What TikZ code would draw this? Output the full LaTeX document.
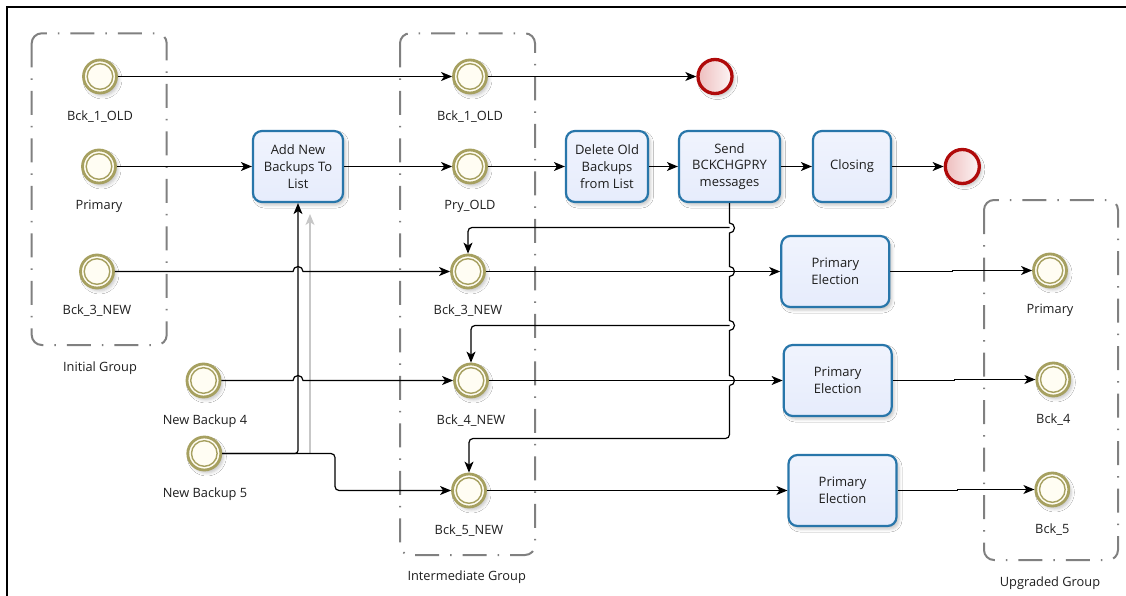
\documentclass[tikz,border=0pt]{standalone}
\usepackage{fontspec}
\setmainfont{Open Sans}
\usetikzlibrary{arrows.meta,shadows.blur}
\definecolor{olivering}{RGB}{166,160,96}
\definecolor{eventfill}{RGB}{255,253,243}
\definecolor{endred}{RGB}{176,10,10}
\definecolor{endpink}{RGB}{238,190,190}
\definecolor{taskblue}{RGB}{40,118,170}
\definecolor{taskfill}{RGB}{230,236,252}
\definecolor{groupgray}{RGB}{128,128,128}
\definecolor{txt}{RGB}{30,30,30}
\begin{document}
\begin{tikzpicture}[x=1pt,y=-1pt,
  font=\fontsize{12.8}{16.7}\selectfont, text=txt,
  softshadow/.style={blur shadow={shadow xshift=2.5pt, shadow yshift=-3pt,
      shadow blur radius=3pt, shadow opacity=22}},
  evt/.style={circle, inner sep=0pt, minimum size=33pt, draw=olivering,
      line width=2.8pt, fill=eventfill, outer sep=1.4pt, softshadow,
      path picture={\draw[olivering, line width=1.4pt]
        (path picture bounding box.center) circle[radius=12.8pt];}},
  endevt/.style={circle, inner sep=0pt, minimum size=34pt, draw=endred,
      line width=3.3pt, outer sep=1.7pt, left color=endpink,
      right color=white!85!endpink, softshadow},
  task/.style={rectangle, rounded corners=9pt, draw=taskblue, line width=2.2pt,
      align=center, top color=white!40!taskfill, bottom color=taskfill,
      minimum height=71pt, inner sep=2pt, softshadow,
      font=\fontsize{13}{16.7}\selectfont},
  lbl/.style={inner sep=1pt},
  group/.style={draw=groupgray, line width=2pt, rounded corners=10pt,
      dash pattern=on 24pt off 11pt on 1.5pt off 11pt},
  link/.style={draw=black, line width=1.2pt},
  flow/.style={link, -{Stealth[length=11pt,width=9pt,inset=3pt]}},
  ghost/.style={draw=black!22, line width=1.2pt,
      -{Stealth[length=11pt,width=9pt,inset=3pt]}}
]
\useasboundingbox (0,0) rectangle (1126,596);
\fill[white] (0,0) rectangle (1126,596);

% outer frame
\draw[line width=2pt] (6.7,596) -- (6.7,6.7) -- (1126,6.7);

% groups
\draw[group] (31.7,33.3) rectangle (166.7,345);
\draw[group] (400,33.3) rectangle (535,555);
\draw[group] (984,200) rectangle (1118,560);
\node[lbl] (gInit) at (100,368.3) {Initial Group};
\node[lbl] (gMid) at (466.7,576.7) {Intermediate Group};
\node[lbl] (gUp) at (1050,583) {Upgraded Group};

% initial group events
\node[evt] (b1L) at (100,76.5) {};
\node[evt] (prL) at (99,166.5) {};
\node[evt] (b3L) at (97,271.5) {};
\node[lbl] at (100,116.7) {Bck\_1\_OLD};
\node[lbl] at (99,206.7) {Primary};
\node[lbl] at (97,310.7) {Bck\_3\_NEW};

% new backups
\node[evt] (nb4) at (203.5,380.5) {};
\node[evt] (nb5) at (204.3,453.5) {};
\node[lbl] at (205,420.7) {New Backup 4};
\node[lbl] at (205,494) {New Backup 5};

% intermediate group events
\node[evt] (b1M) at (470,76.5) {};
\node[evt] (pryM) at (470,166.5) {};
\node[evt] (b3M) at (468,271.5) {};
\node[evt] (b4M) at (471,380.5) {};
\node[evt] (b5M) at (469,490.5) {};
\node[lbl] at (470,116.7) {Bck\_1\_OLD};
\node[lbl] at (470,206.7) {Pry\_OLD};
\node[lbl] at (468,311) {Bck\_3\_NEW};
\node[lbl] at (471,420.7) {Bck\_4\_NEW};
\node[lbl] at (469,531) {Bck\_5\_NEW};

% upgraded group events
\node[evt] (rP) at (1050,270.5) {};
\node[evt] (r4) at (1053.3,379.5) {};
\node[evt] (r5) at (1052.3,489.5) {};
\node[lbl] at (1050,310) {Primary};
\node[lbl] at (1053.3,420) {Bck\_4};
\node[lbl] at (1052.3,529.3) {Bck\_5};

% end events
\node[endevt] (end1) at (715,76.5) {};
\node[endevt] (end2) at (962.3,166.5) {};

% tasks
\node[task, minimum width=90pt] (addnew) at (298,166.5) {Add New\\Backups To\\List};
\node[task, minimum width=82pt] (del) at (607,166.5) {Delete Old\\Backups\\from List};
\node[task, minimum width=101pt] (send) at (729.5,166.5) {Send\\BCKCHGPRY\\messages};
\node[task, minimum width=78pt] (clos) at (852,166.5) {Closing};
\node[task, minimum width=108pt] (pe1) at (835.3,271.5) {Primary\\Election};
\node[task, minimum width=108pt] (pe2) at (837.7,380.5) {Primary\\Election};
\node[task, minimum width=108pt] (pe3) at (842.5,490.5) {Primary\\Election};

% faint trace beside the vertical connector
\coordinate (gA) at (310,453.5);
\coordinate (gB) at (310,214);
\draw[ghost] (gA) -- (gB);

% top rows
\draw[flow] (b1L) -- (b1M);
\draw[flow] (b1M) -- (end1);
\draw[flow] (prL) -- (addnew);
\draw[flow] (addnew) -- (pryM);
\draw[flow] (pryM) -- (del);
\draw[flow] (del) -- (send);
\draw[flow] (send) -- (clos);
\draw[flow] (clos) -- (end2);

% crossing points of the vertical connector into "Add New Backups To List"
\coordinate (x3) at (addnew.south |- b3L.east);
\coordinate (x4) at (addnew.south |- nb4.east);
\draw[flow] (b3L.east) -- ([xshift=-5pt]x3) arc[start angle=180,end angle=0,radius=5pt] -- (b3M.west);
\draw[flow] (nb4.east) -- ([xshift=-5pt]x4) arc[start angle=180,end angle=0,radius=5pt] -- (b4M.west);

% New Backup 5 outgoing
\draw[flow, rounded corners=3pt] (nb5.east) -| (addnew.south);
\coordinate (c5) at (335,470);
\draw[flow, rounded corners=4pt] (nb5.east) -| (c5) |- (b5M.west);

% intermediate to elections
\draw[flow] (b3M) -- (pe1);
\draw[flow] (b4M) -- (pe2);
\draw[flow] (b5M) -- (pe3);

% elections to upgraded group
\draw[flow] (pe1.east) -- ++(62,0) |- (rP.west);
\draw[flow] (pe2.east) -- ++(62,0) |- (r4.west);
\draw[flow] (pe3.east) -- ++(60,0) |- (r5.west);

% BCKCHGPRY fan-out trunk with jumps
\coordinate (t1) at (send.south |- 0,228);
\coordinate (t2) at (send.south |- b3M.east);
\coordinate (t3) at (send.south |- 0,325.5);
\coordinate (t4) at (send.south |- b4M.east);
\coordinate (t5) at (send.south |- 0,438.5);
\draw[link] (send.south) -- ([yshift=5pt]t1) arc[start angle=90,end angle=-90,radius=5pt]
  -- ([yshift=5pt]t2) arc[start angle=90,end angle=-90,radius=5pt]
  -- ([yshift=5pt]t3) arc[start angle=90,end angle=-90,radius=5pt]
  -- ([yshift=5pt]t4) arc[start angle=90,end angle=-90,radius=5pt];
\draw[flow, rounded corners=4pt] ([yshift=-5pt]t4) -- (t5) -| (b5M.north);
\draw[flow, rounded corners=4pt] ([yshift=0.5pt]t1) -| (b3M.north);
\draw[flow, rounded corners=4pt] (t3) -| (b4M.north);
\end{tikzpicture}
\end{document}
